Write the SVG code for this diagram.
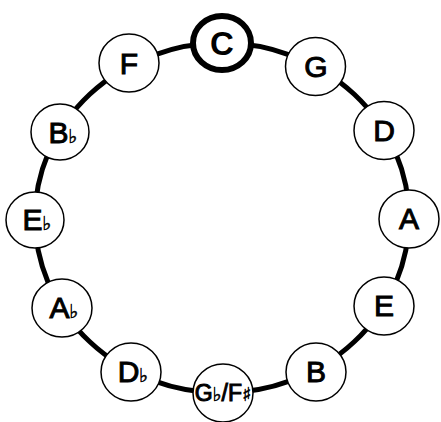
<svg xmlns="http://www.w3.org/2000/svg" width="441" height="422" viewBox="0 0 441 422">
<style>
.ring{fill:none;stroke:#000;stroke-width:5}
.node{fill:#fff;stroke:#000;stroke-width:1.5}
.key{fill:#fff;stroke:#000;stroke-width:6}
.lbl{font-family:"Liberation Sans",Arial,sans-serif;font-size:30px;text-anchor:middle;fill:#000;stroke:#000;stroke-width:1}
.big{font-size:33px;font-weight:bold;stroke:none}
.small{font-size:23px}
.acc{font-family:"DejaVu Sans",sans-serif;font-size:19px;stroke-width:0.5}
</style>
<rect width="441" height="422" fill="#fff"/>
<g id="connectors">
<ellipse class="ring" cx="222" cy="218" rx="187" ry="175"/>
</g>
<g id="node-C"><ellipse class="key" cx="222" cy="43" rx="29" ry="27"/><text class="lbl big" x="222" y="55">C</text></g>
<g id="node-G"><ellipse class="node" cx="315.5" cy="66.5" rx="30" ry="29"/><text class="lbl" x="316" y="77">G</text></g>
<g id="node-D"><ellipse class="node" cx="384" cy="130.5" rx="30" ry="29"/><text class="lbl" x="384" y="141">D</text></g>
<g id="node-A"><ellipse class="node" cx="409" cy="219" rx="30" ry="29"/><text class="lbl" x="409" y="229">A</text></g>
<g id="node-E"><ellipse class="node" cx="384" cy="306" rx="30" ry="29"/><text class="lbl" x="384" y="316">E</text></g>
<g id="node-B"><ellipse class="node" cx="316" cy="372" rx="30" ry="29"/><text class="lbl" x="316" y="382">B</text></g>
<g id="node-GbFs"><ellipse class="node" cx="223" cy="393" rx="30" ry="29"/><text class="lbl small" x="223" y="401">G<tspan class="acc">♭</tspan>/F<tspan class="acc">♯</tspan></text></g>
<g id="node-Db"><ellipse class="node" cx="131" cy="372" rx="30" ry="29"/><text class="lbl" x="133" y="382">D<tspan class="acc">♭</tspan></text></g>
<g id="node-Ab"><ellipse class="node" cx="62" cy="308" rx="30" ry="29"/><text class="lbl" x="64" y="318">A<tspan class="acc">♭</tspan></text></g>
<g id="node-Eb"><ellipse class="node" cx="35" cy="220" rx="29" ry="28"/><text class="lbl" x="37" y="230">E<tspan class="acc">♭</tspan></text></g>
<g id="node-Bb"><ellipse class="node" cx="60" cy="132" rx="29" ry="28"/><text class="lbl" x="63" y="143">B<tspan class="acc">♭</tspan></text></g>
<g id="node-F"><ellipse class="node" cx="129" cy="63" rx="30" ry="29"/><text class="lbl" x="129" y="74">F</text></g>
</svg>
